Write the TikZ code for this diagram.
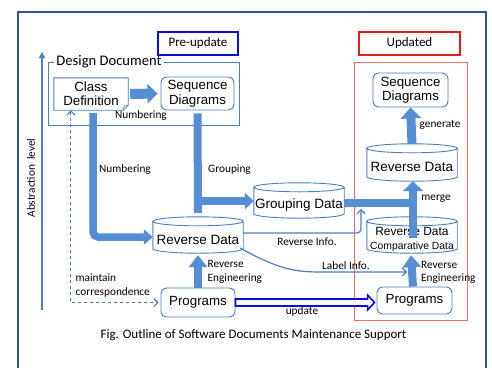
\documentclass[tikz,border=0pt]{standalone}
\usepackage{fontspec}
\setmainfont{Carlito}
\newfontfamily\nodefont{Liberation Sans}
\usetikzlibrary{arrows.meta,calc}

\definecolor{arrowblue}{RGB}{85,142,213}
\definecolor{edgeblue}{RGB}{74,126,190}
\definecolor{framenavy}{RGB}{47,85,151}
\definecolor{tagblue}{RGB}{10,10,235}
\definecolor{tagred}{RGB}{235,25,25}
\definecolor{zonered}{RGB}{255,105,105}

% outline of a drum (database) around a named node:
% top ellipse above the node, side lines, lower half ellipse at its foot
\newcommand\drumoutline[1]{%
  \draw[drumline] let \p1=(#1.north west), \p2=(#1.south east), \n1={(\x2-\x1)/2} in
    (\x1,\y1+4.5pt) -- (\x1,\y2+4.5pt)
    arc[start angle=180, end angle=360, x radius=\n1, y radius=4.5pt]
    -- (\x2,\y1+4.5pt)
    (\x1/2+\x2/2,\y1+4.5pt) ellipse[x radius=\n1, y radius=4.5pt];
}
% text set a little lower than its box
\newcommand\lowtext[2]{\raisebox{-#1}[\height][\depth]{#2}}

\begin{document}
\begin{tikzpicture}[x=1pt,y=-1pt,
  lbl/.style={font=\fontsize{11.3}{13.5}\selectfont, inner sep=0pt},
  tag/.style={line width=1.6pt, minimum height=23pt, font=\fontsize{13}{14}\selectfont, inner sep=0pt},
  box/.style={draw=edgeblue, line width=0.9pt, rounded corners=6pt, align=center,
    font=\nodefont\fontsize{13.3}{14.5}\selectfont, inner sep=0pt},
  drum/.style={align=center, inner sep=0pt, font=\nodefont\fontsize{13.5}{14.5}\selectfont},
  drumline/.style={draw=edgeblue, line width=0.9pt},
  fat/.style={draw=arrowblue, line width=8pt},
  fatarrow/.style={fat, -{Triangle[width=17pt,length=10pt]}},
  thinarrow/.style={draw=edgeblue, line width=1.2pt, -{Straight Barb[length=4pt,width=8pt]}},
]
\useasboundingbox (0,0) rectangle (492,367);

% outer frame
\draw[framenavy, line width=2.6pt] (18,380) -- (18,12) -- (486,12) -- (486,380);

% abstraction axis
\coordinate (axlo) at (42,310);
\coordinate (axhi) at (42,52);
\draw[edgeblue, line width=1.2pt, -{Triangle[length=6pt,width=6pt]}] (axlo) -- (axhi);
\node[lbl, rotate=90] (axlbl) at (31,178) {Abstraction\ \ level};

% tags and areas
\node[tag, draw=tagblue, minimum width=80pt] (pre) at (198,43.5) {Pre-update};
\node[tag, draw=tagred, minimum width=101pt] (post) at (409.5,43.5) {Updated};
\draw[zonered, line width=1pt] (354,62) rectangle (467,320);

% design document group
\draw[edgeblue, line width=0.9pt] (48,62) rectangle (239,125);
\node[fill=white, inner xsep=2pt, inner ysep=0pt, font=\fontsize{14.6}{15}\selectfont] (ddoc) at (109,62) {Design Document};

% class definition (note with folded corner)
\node[align=center, inner sep=0pt, minimum width=74pt, minimum height=32pt,
  font=\nodefont\fontsize{13.3}{14}\selectfont] (cd) at (91,94) {Class\\Definition};
\draw[drumline] (cd.north west) -- (cd.north east) -- ([yshift=5pt]cd.south east)
  -- ([xshift=-5pt]cd.south east) -- (cd.south west) -- cycle;
\draw[edgeblue, line width=0.7pt, fill=edgeblue!25] ([yshift=5pt]cd.south east) -- ([xshift=-4pt,yshift=4pt]cd.south east) -- ([xshift=-5pt]cd.south east);

\node[box, minimum width=73pt, minimum height=33pt] (sdpre) at (197.5,93.5) {Sequence\\Diagrams};

% drums
\node[drum, minimum width=90pt, minimum height=27pt] (rdl) at (198,239.5) {Reverse Data};
\node[drum, minimum width=90pt, minimum height=26pt] (gd) at (299,205) {Grouping Data};
\node[drum, minimum width=90pt, minimum height=28pt] (rdt) at (412,167) {Reverse Data};
\node[drum, minimum width=90pt, minimum height=27pt] (rdc) at (412,239.5)
  {{\fontsize{12}{11}\selectfont Reverse Data}\\{\fontsize{10.4}{11}\selectfont Comparative Data}};
\drumoutline{rdl}
\drumoutline{gd}
\drumoutline{rdt}
\drumoutline{rdc}

\node[box, minimum width=75pt, minimum height=34pt] (sdpost) at (410.5,90) {Sequence\\Diagrams};
\node[box, minimum width=74pt, minimum height=29pt] (pl) at (198,302.5) {Programs};
\node[box, minimum width=75pt, minimum height=27pt] (pr) at (414.5,300.5) {Programs};

% thick flows
\draw[fat, -{Triangle[width=19pt,length=10pt]}, line width=10pt]
  ([xshift=2pt]cd.east) -- ([xshift=-3pt]sdpre.west);
\draw[fatarrow, line width=7.5pt, -{Triangle[width=15pt,length=9pt]}, rounded corners=5pt]
  ([xshift=2pt,yshift=-3pt]cd.south) |- ([yshift=2.5pt]rdl.west);
\coordinate (gsplit) at (198,201);
\coordinate (gfoot) at (198,213);
\draw[fat] ([yshift=-3pt]sdpre.south) -- (gfoot);
\draw[fatarrow, line width=7.5pt, -{Triangle[width=16pt,length=9pt]}] ([xshift=-3.75pt]gsplit) -- (gsplit -| gd.west);
\coordinate (mjoin) at (413,203);
\draw[fat] (gd.east |- mjoin) -- (mjoin);
\draw[fatarrow, -{Triangle[width=20pt,length=10pt]}] ([xshift=1pt,yshift=-12pt]rdc.north) -- ([xshift=1pt]rdt.south);
\draw[fatarrow, line width=9pt, -{Triangle[width=20pt,length=11pt]}] ([yshift=9pt]rdt.north) -- (sdpost.south);
\draw[fatarrow, -{Triangle[width=18pt,length=12pt]}] (pl.north) -- ([yshift=-2pt]rdl.south);
\draw[fatarrow, -{Triangle[width=18pt,length=12pt]}] ([xshift=-1.5pt]pr.north) -- ([xshift=-1pt,yshift=-2pt]rdc.south);

% update: hollow double-lined arrow
\draw[tagblue, line width=1.6pt, fill=white, line join=miter]
  ([yshift=3.5pt]pl.east) -- ([xshift=-9pt,yshift=3.5pt]pr.west |- pl.east)
  -- ([xshift=-9pt,yshift=7.5pt]pr.west |- pl.east) -- ([xshift=-2pt]pr.west |- pl.east)
  -- ([xshift=-9pt,yshift=-7.5pt]pr.west |- pl.east) -- ([xshift=-9pt,yshift=-3.5pt]pr.west |- pl.east)
  -- ([yshift=-3.5pt]pl.east) -- cycle;

% thin links
\coordinate (riend) at (361,209);
\draw[thinarrow, rounded corners=4pt] ([yshift=6.5pt]rdl.east) -| (riend);
\coordinate (liend) at (407,272);
\draw[thinarrow] ([xshift=-3pt,yshift=-8.5pt]rdl.east) .. controls (285,273) and (300,272) .. (330,272) -- (liend);
\draw[edgeblue, line width=1.1pt, dashed, dash pattern=on 3.5pt off 2.5pt,
  {Straight Barb[length=4pt,width=8pt]}-{Straight Barb[length=4pt,width=8pt]}]
  ([xshift=17pt]cd.south west) |- ([xshift=-2pt]pl.west);

% labels
\node[lbl] (l1) at (141,116) {Numbering};
\node[lbl] (l2) at (125,170) {Numbering};
\node[lbl] (l3) at (229.5,170) {Grouping};
\node[lbl] (l4) at (440,125) {generate};
\node[lbl] (l5) at (436,199) {merge};
\node[lbl] (l6) at (307,242) {Reverse Info.};
\node[lbl] (l7) at (346,266) {Label Info.};
\node[lbl, align=left, anchor=west] (l8) at (207.5,272) {Reverse\\Engineering};
\node[lbl, align=left, anchor=west] (l9) at (421,272.5) {Reverse\\Engineering};
\node[lbl, align=left, anchor=west] (l10) at (75.5,285.5) {maintain\\correspondence};
\node[lbl] (l11) at (302,311) {update};
\node[font=\fontsize{13}{14}\selectfont, inner sep=0pt] (cap) at (253.5,335) {Fig. Outline of Software Documents Maintenance Support};
\end{tikzpicture}
\end{document}
